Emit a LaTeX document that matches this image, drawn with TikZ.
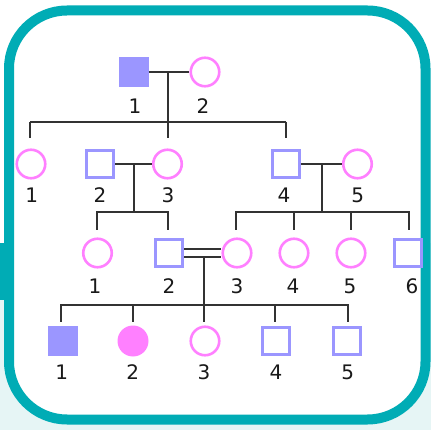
\documentclass[tikz,border=0pt]{standalone}
\usepackage{fontspec}
\setmainfont{DejaVu Sans}
\definecolor{frameteal}{RGB}{0,172,181}
\definecolor{bgcyan}{RGB}{230,245,245}
\definecolor{lav}{RGB}{155,150,255}
\definecolor{pinkc}{RGB}{255,128,255}
\definecolor{linec}{RGB}{50,50,50}
\begin{document}
\begin{tikzpicture}[x=1pt,y=-1pt,
  male/.style={rectangle,draw=lav,line width=2.6pt,fill=white,minimum size=27.5pt,inner sep=0pt},
  malefill/.style={rectangle,fill=lav,minimum size=30pt,inner sep=0pt},
  female/.style={circle,draw=pinkc,line width=2.6pt,fill=white,minimum size=28.5pt,inner sep=0pt},
  femalefill/.style={circle,fill=pinkc,minimum size=31pt,inner sep=0pt},
  lab/.style={font=\fontsize{20}{20}\selectfont,text=black!90,inner sep=0pt},
  conn/.style={draw=linec,line width=2pt}]
\useasboundingbox (0,0) rectangle (431,430);
\fill[white] (0,0) rectangle (431,430);
\fill[bgcyan] (0,243) rectangle (431,430);
\fill[frameteal] (0,243) rectangle (13,300);
\draw[frameteal,line width=10pt,fill=white,rounded corners=58pt] (9,10.5) rectangle (425.5,419.5);

% junction coordinates
\coordinate (m1) at (168,72);
\coordinate (m1b) at (168,138);
\coordinate (s1l) at (30,122);
\coordinate (s1r) at (286,122);
\coordinate (m2) at (133.5,164);
\coordinate (s2) at (133.5,212);
\coordinate (m3) at (322,164);
\coordinate (s3) at (322,212);
\coordinate (m4) at (204,257);
\coordinate (m4b) at (204,322);
\coordinate (s4) at (204,305);

% connectors (under nodes)
\draw[conn] (m1) -- (m1b);
\draw[conn] (s1l) -- (s1r);
\draw[conn] (s1l) -- (30,138);
\draw[conn] (s1r) -- (286,138);
\draw[conn] (m2) -- (s2);
\draw[conn] (96.7,230) -- (96.7,212) -- (168,212) -- (168,230);
\draw[conn] (m3) -- (s3);
\draw[conn] (236,230) -- (236,212) -- (409,212) -- (409,230);
\draw[conn] (293.7,212) -- (293.7,230);
\draw[conn] (351,212) -- (351,230);
\draw[conn] (m4) -- (m4b);
\draw[conn] (61,322) -- (61,305) -- (348,305) -- (348,322);
\draw[conn] (133.3,305) -- (133.3,322);
\draw[conn] (275.3,305) -- (275.3,322);

% Generation I
\node[malefill] (I1) at (133.5,72) {};
\node[female] (I2) at (205,72) {};
% Generation II
\node[female] (II1) at (31,164) {};
\node[male] (II2) at (100,164) {};
\node[female] (II3) at (167.5,164) {};
\node[male] (II4) at (286,164) {};
\node[female] (II5) at (357.5,164) {};
% Generation III
\node[female] (III1) at (97.5,253) {};
\node[male] (III2) at (169,253) {};
\node[female] (III3) at (237,253) {};
\node[female] (III4) at (294,253) {};
\node[female] (III5) at (351,253) {};
\node[male] (III6) at (408,253) {};
% Generation IV
\node[malefill] (IV1) at (62.5,341) {};
\node[femalefill] (IV2) at (133,341) {};
\node[female] (IV3) at (205,341) {};
\node[male] (IV4) at (276,341) {};
\node[male] (IV5) at (347,341) {};

% marriage lines
\draw[conn] (I1.east) -- (I2.west);
\draw[conn] (II2.east) -- (II3.west);
\draw[conn] (II4.east) -- (II5.west);
\draw[conn] ([yshift=4pt]III2.east) -- ([yshift=4pt]III3.west);
\draw[conn] ([yshift=-4pt]III2.east) -- ([yshift=-4pt]III3.west);

% labels
\node[lab] (lI1) at (135,106) {1};
\node[lab] (lI2) at (203,106) {2};
\node[lab] (lII1) at (31.7,195) {1};
\node[lab] (lII2) at (100,195) {2};
\node[lab] (lII3) at (168,195) {3};
\node[lab] (lII4) at (284,195) {4};
\node[lab] (lII5) at (357.7,195) {5};
\node[lab] (lIII1) at (95,286) {1};
\node[lab] (lIII2) at (169,286) {2};
\node[lab] (lIII3) at (237,286) {3};
\node[lab] (lIII4) at (293,286) {4};
\node[lab] (lIII5) at (350,286) {5};
\node[lab] (lIII6) at (412,286) {6};
\node[lab] (lIV1) at (61.7,372) {1};
\node[lab] (lIV2) at (132.7,372) {2};
\node[lab] (lIV3) at (204,372) {3};
\node[lab] (lIV4) at (276,372) {4};
\node[lab] (lIV5) at (347.7,372) {5};
\end{tikzpicture}
\end{document}
